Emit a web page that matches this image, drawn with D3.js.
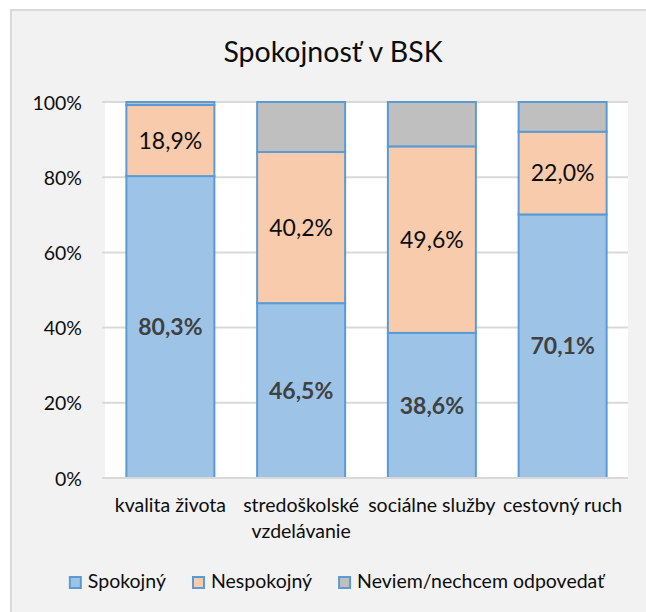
<!DOCTYPE html>
<html>
<head>
<meta charset="utf-8">
<script src="https://cdn.jsdelivr.net/npm/d3@7"></script>
<style>
  html, body { margin: 0; padding: 0; background: #ffffff; }
  svg { display: block; }
  text { font-family: Lato, "Open Sans", sans-serif; }
</style>
</head>
<body>
<div id="chart"></div>
<script>
// ---- data ----
const categories = ["kvalita života", "stredoškolské vzdelávanie", "sociálne služby", "cestovný ruch"];
const seriesNames = ["Spokojný", "Nespokojný", "Neviem/nechcem odpovedať"];
const spokojny   = [80.3, 46.5, 38.6, 70.1];
const nespokojny = [18.9, 40.2, 49.6, 22.0];
const neviem     = [0.8, 13.3, 11.8, 7.9];
const yTicks = [0, 0.2, 0.4, 0.6, 0.8, 1.0];
const title = "Spokojnosť v BSK";

// ---- layout ----
const W = 646, H = 612;
const plot = { left: 105, right: 628, top: 102, bottom: 478 };
const fills = ["#9dc3e6", "#f8cbad", "#bfbfbf"];
const strokeCol = "#5b9bd5";

const svg = d3.select("#chart").append("svg").attr("width", W).attr("height", H);

// chart area background + border
svg.append("rect").attr("x", 11).attr("y", 10).attr("width", W + 10).attr("height", H + 10)
  .attr("fill", "#f2f2f2").attr("stroke", "#d9d9d9").attr("stroke-width", 2);

// plot area
svg.append("rect").attr("x", plot.left).attr("y", plot.top)
  .attr("width", plot.right - plot.left).attr("height", plot.bottom - plot.top)
  .attr("fill", "#ffffff");

const x = d3.scaleBand().domain(categories).range([plot.left, plot.right])
  .paddingInner(0.327).paddingOuter(0.1635);
const y = d3.scaleLinear().domain([0, 1]).range([plot.bottom, plot.top]);

// gridlines
svg.append("g").selectAll("line").data(yTicks).join("line")
  .attr("x1", plot.left - 3).attr("x2", plot.right)
  .attr("y1", d => y(d)).attr("y2", d => y(d))
  .attr("stroke", "#d9d9d9").attr("stroke-width", 2);

// y axis labels
const yAxis = d3.axisLeft(y).tickValues(yTicks).tickFormat(d => Math.round(d * 100) + "%").tickSize(0).tickPadding(0);
const gy = svg.append("g").attr("transform", `translate(82,0)`).call(yAxis);
gy.select(".domain").remove();
gy.selectAll("text").attr("font-size", 19.5).attr("fill", "#0d0d0d")
  .attr("font-family", "Lato, sans-serif").attr("dy", "0.36em");

// stacked data
const rows = categories.map((c, i) => ({ cat: c, s0: spokojny[i], s1: nespokojny[i], s2: neviem[i] }));
const stack = d3.stack().keys(["s0", "s1", "s2"]);
const stacked = stack(rows);

const gBars = svg.append("g");
stacked.forEach((layer, li) => {
  gBars.append("g").selectAll("rect").data(layer).join("rect")
    .attr("x", d => x(d.data.cat))
    .attr("width", x.bandwidth())
    .attr("y", d => y(d[1] / 100))
    .attr("height", d => y(d[0] / 100) - y(d[1] / 100))
    .attr("fill", fills[li])
    .attr("stroke", strokeCol).attr("stroke-width", 2);
});

// data labels
const fmt = v => v.toFixed(1).replace(".", ",") + "%";
stacked.slice(0, 2).forEach((layer, li) => {
  svg.append("g").selectAll("text").data(layer).join("text")
    .attr("x", d => x(d.data.cat) + x.bandwidth() / 2)
    .attr("y", d => y((d[0] + d[1]) / 200))
    .attr("dy", "0.36em")
    .attr("text-anchor", "middle")
    .attr("font-size", 23)
    .attr("font-weight", li === 0 ? "bold" : "normal")
    .attr("fill", li === 0 ? "#404040" : "#0d0d0d")
    .text(d => fmt(d[1] - d[0]));
});

// baseline axis line
svg.append("line").attr("x1", plot.left).attr("x2", plot.right)
  .attr("y1", plot.bottom).attr("y2", plot.bottom)
  .attr("stroke", "#d9d9d9").attr("stroke-width", 2);

// category labels (wrapped when too wide)
const gx = svg.append("g");
categories.forEach(c => {
  const cx = x(c) + x.bandwidth() / 2;
  const t = gx.append("text").attr("x", cx).attr("y", 512).attr("text-anchor", "middle")
    .attr("font-size", 19.5).attr("fill", "#0d0d0d").text(c);
  if (t.node().getComputedTextLength() > x.step() * 1.05 && c.indexOf(" ") > 0) {
    const words = c.split(" ");
    t.text(null);
    t.append("tspan").attr("x", cx).attr("dy", 0).text(words.slice(0, -1).join(" "));
    t.append("tspan").attr("x", cx).attr("dy", 26).text(words[words.length - 1]);
  }
});

// title
svg.append("text").attr("x", 333).attr("y", 62).attr("text-anchor", "middle")
  .attr("font-size", 28.5).attr("fill", "#0d0d0d").text(title);

// legend
const lg = svg.append("g");
const items = seriesNames.map((n, i) => {
  const g = lg.append("g");
  g.append("rect").attr("width", 11).attr("height", 11).attr("y", 577)
    .attr("fill", fills[i]).attr("stroke", strokeCol).attr("stroke-width", 2);
  const t = g.append("text").attr("x", 18).attr("y", 588).attr("font-size", 19.5)
    .attr("fill", "#0d0d0d").text(n);
  return { g, w: 18 + t.node().getComputedTextLength() };
});
const gap = 27;
const total = d3.sum(items, d => d.w) + gap * (items.length - 1);
let lx = 337 - total / 2;
items.forEach(it => { it.g.attr("transform", `translate(${lx},0)`); lx += it.w + gap; });
</script>
</body>
</html>
